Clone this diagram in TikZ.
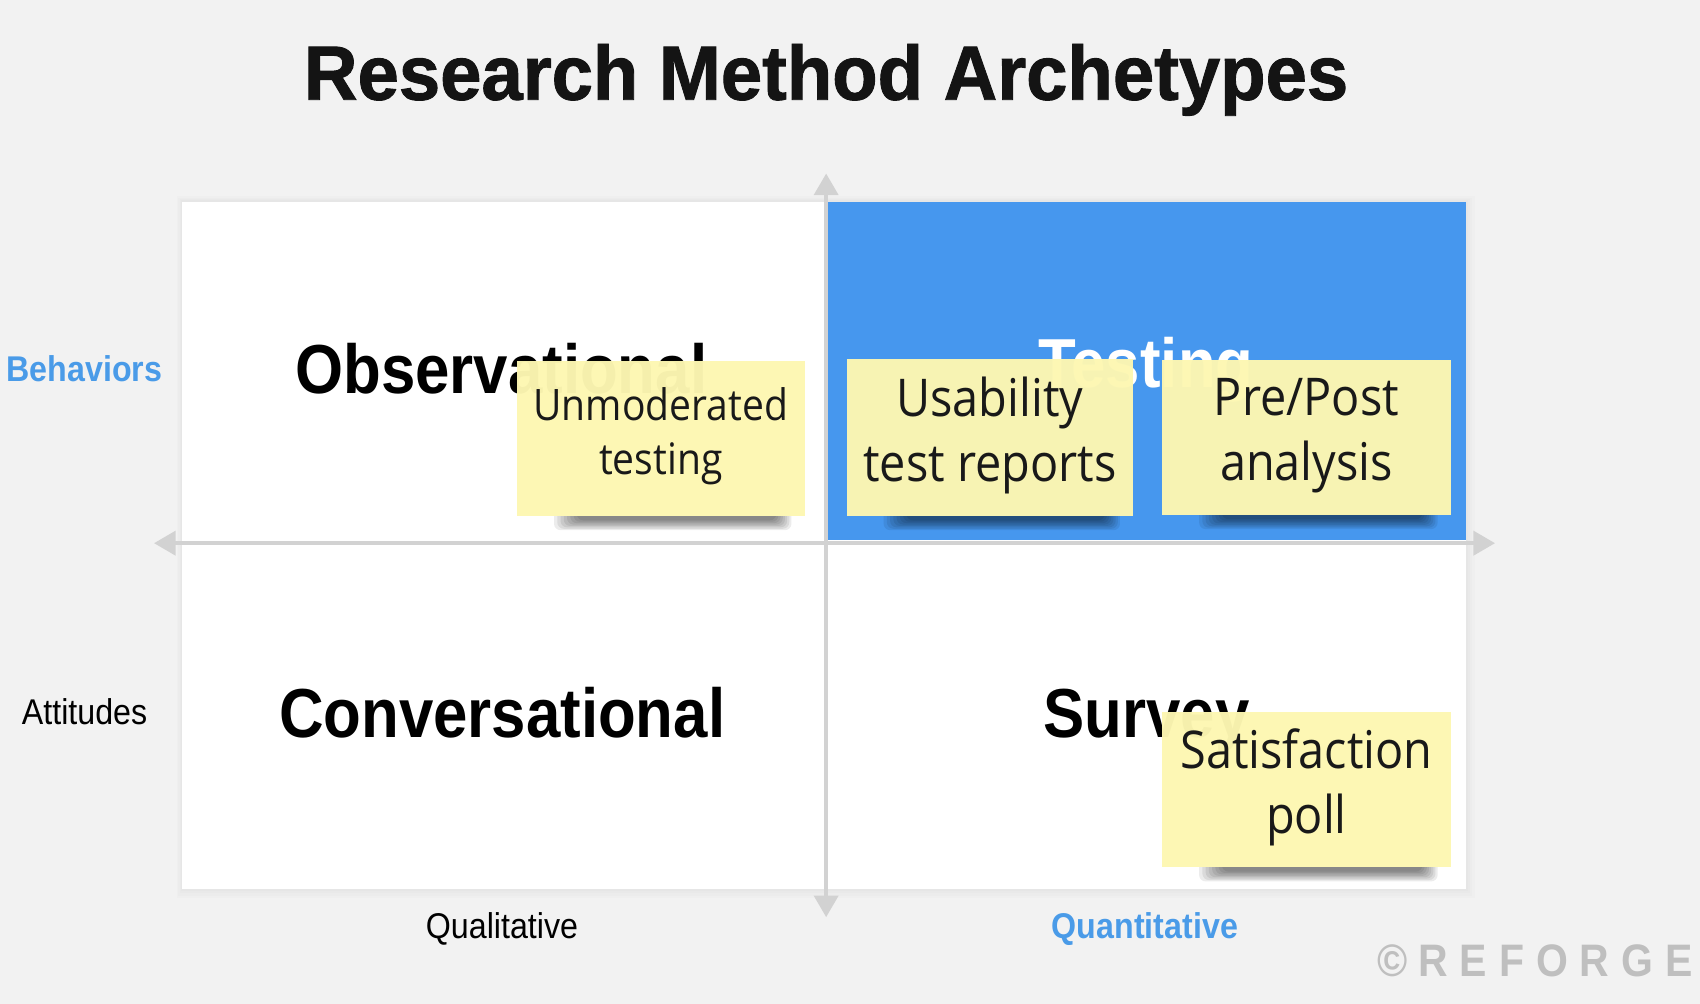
\documentclass[tikz,border=0pt]{standalone}
\usepackage{fontspec}
\setmainfont{Liberation Sans}
\usetikzlibrary{arrows.meta}
\newfontfamily\qfont[FakeStretch=0.89]{Liberation Sans}
\newfontfamily\tfont[FakeStretch=0.965,FakeBold=1.2]{Liberation Sans}
\newfontfamily\lfont[FakeStretch=0.9]{Liberation Sans}
\newfontfamily\nfont[FakeStretch=0.9]{Open Sans}
\definecolor{bgc}{HTML}{F2F2F2}
\definecolor{qblue}{HTML}{4697EE}
\definecolor{lblue}{HTML}{4A9BE8}
\definecolor{stickyc}{HTML}{FDF7B2}
\definecolor{axisc}{HTML}{D2D2D2}
\definecolor{markc}{HTML}{BFBFBF}
\definecolor{titlec}{HTML}{141414}
\tikzset{
  sticky/.style={rectangle, fill=stickyc, fill opacity=0.97, inner sep=0pt, minimum width=133pt, minimum height=71.5pt},
  notebig/.style={align=center, inner sep=0pt, text=black!90, font=\nfont\fontsize{24}{30}\selectfont},
  notesmall/.style={align=center, inner sep=0pt, text=black!90, font=\nfont\fontsize{20}{25}\selectfont},
  quad/.style={inner sep=0pt, font=\qfont\bfseries\fontsize{32}{36}\selectfont},
  axlabel/.style={inner sep=0pt, font=\lfont\fontsize{16.5}{20}\selectfont},
  axisline/.style={draw=axisc, line width=2pt, -{Triangle[width=11pt,length=10pt]}},
}
\newcommand\stickyshadow[3]{% x1 x2 ybottom
  \begin{scope}
    \clip (#1-20,#3) rectangle (#2+20,#3+40);
    \foreach \i in {0,...,7}{
      \fill[black, opacity=0.075, rounded corners=3pt] (#1+34+3*\i,#3-6) rectangle (#2-12-2*\i,#3+13-1.3*\i);
    }
  \end{scope}
}
\begin{document}
\begin{tikzpicture}[x=0.5pt,y=-0.5pt]
% background
\fill[bgc] (0,0) rectangle (1568,926);
\useasboundingbox (0,0) rectangle (1568,926);
% panel glow
\foreach \i in {1,...,4}{
  \fill[black, opacity=0.01] (168-\i*1.2,186-\i*1.2) rectangle (1352+\i*2,820+\i*2);
}
\fill[white] (168,186) rectangle (1352,820);
\fill[qblue] (764,186) rectangle (1352,498);
% axes
\coordinate (c) at (762,501);
\coordinate (ytop) at (762,160);
\coordinate (ybot) at (762,846);
\coordinate (xl) at (142,501);
\coordinate (xr) at (1379,501);
\coordinate (ymid) at (762,501);
\draw[axisline] (ymid) -- (ytop);
\draw[axisline] (ymid) -- (ybot);
\draw[axisline] (c) -- (xl);
\draw[axisline] (c) -- (xr);
% title
\node[anchor=base, inner sep=0pt, text=titlec, font=\tfont\bfseries\fontsize{35.5}{40}\selectfont] (title) at (762,92) {Research Method Archetypes};
% axis labels
\node[axlabel, anchor=base, text=lblue, font=\lfont\bfseries\fontsize{16.5}{20}\selectfont] (beh) at (78,352) {Behaviors};
\node[axlabel, anchor=base] (att) at (78,668) {Attitudes};
\node[axlabel, anchor=base] (qual) at (463,866) {Qualitative};
\node[axlabel, anchor=base, text=lblue, font=\lfont\bfseries\fontsize{16.5}{20}\selectfont] (quant) at (1056,866) {Quantitative};
% quadrant titles
\node[quad, anchor=base west] (obs) at (272,363) {Observational};
\node[quad, anchor=base, text=white] (test) at (1057,357) {Testing};
\node[quad, anchor=base west] (conv) at (257,680) {Conversational};
\node[quad, anchor=base west] (surv) at (962,680) {Survey};
% sticky notes
\stickyshadow{477}{742}{476}
\node[sticky] (n1) at (609.5,404.5) {};
\node[notesmall] (n1t) at (609.5,402) {Unmoderated\\testing};
\stickyshadow{781}{1045}{476}
\node[sticky, minimum width=132pt, minimum height=72.5pt] (n2) at (913,403.5) {};
\node[notebig] (n2t) at (913,402) {Usability\\test reports};
\stickyshadow{1072}{1338}{475}
\node[sticky] (n3) at (1205,403.5) {};
\node[notebig] (n3t) at (1205,402) {Pre/Post\\analysis};
\stickyshadow{1072}{1338}{800}
\node[sticky] (n4) at (1205,728.5) {};
\node[notebig] (n4t) at (1205,726) {Satisfaction\\poll};
% watermark
\node[anchor=base west, inner sep=0pt, text=markc, font=\lfont\bfseries\fontsize{21}{24}\selectfont] (mark) at (1270,901) {©\kern5pt R\kern5.5pt E\kern5.5pt F\kern5.5pt O\kern5.5pt R\kern5.5pt G\kern5.5pt E};
\end{tikzpicture}
\end{document}
